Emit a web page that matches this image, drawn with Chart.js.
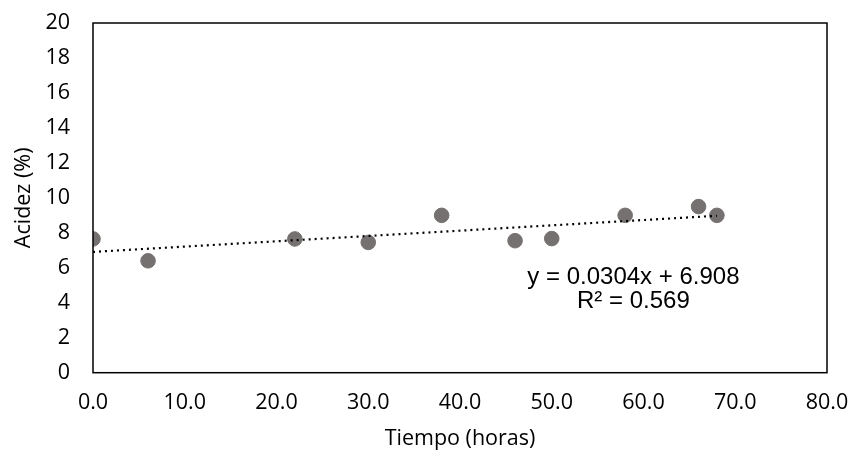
<!DOCTYPE html>
<html lang="es">
<head>
  <meta charset="UTF-8">
  <title>Acidez vs Tiempo</title>
  <script src="https://cdn.jsdelivr.net/npm/chart.js"></script>
  <style>
    html, body { margin: 0; padding: 0; background: #fff; }
    #wrap { width: 852px; height: 456px; }
  </style>
</head>
<body>
  <div id="wrap"><canvas id="acidezChart" width="852" height="456"></canvas></div>

  <script>
    // datos
    const tiempo = [0, 6, 22, 30, 38, 46, 50, 58, 66, 68];
    const acidez = [7.65, 6.4, 7.65, 7.45, 9.0, 7.55, 7.67, 9.0, 9.5, 9.0];

    // linea de tendencia (extremos)
    const trendX = [0, 68];
    const trendY = [6.908, 8.975];

    const eqLines = ['y = 0.0304x + 6.908', 'R² = 0.569'];

    const tickFont = { family: 'Open Sans', size: 21.5 };

    // marco del area de trazado + ecuacion
    const framePlugin = {
      id: 'frame',
      afterDatasetsDraw(chart) {
        const { ctx, chartArea: a, scales } = chart;
        ctx.save();
        ctx.strokeStyle = '#000';
        ctx.lineWidth = 1.5;
        ctx.strokeRect(a.left, a.top, a.right - a.left, a.bottom - a.top);

        ctx.fillStyle = '#000';
        ctx.font = '24px "Liberation Sans", Arial, sans-serif';
        ctx.textAlign = 'center';
        ctx.textBaseline = 'middle';
        const cx = scales.x.getPixelForValue(58.9);
        ctx.fillText(eqLines[0], cx, scales.y.getPixelForValue(5.45));
        ctx.fillText(eqLines[1], cx, scales.y.getPixelForValue(4.1));
        ctx.restore();
      }
    };

    function noOverflow(scale) {
      scale.paddingTop = 0;
      scale.paddingBottom = 0;
      scale.paddingLeft = 0;
      scale.paddingRight = 0;
    }

    const ctx = document.getElementById('acidezChart').getContext('2d');
    new Chart(ctx, {
      type: 'scatter',
      data: {
        datasets: [
          {
            label: 'Acidez',
            data: tiempo.map((t, i) => ({ x: t, y: acidez[i] })),
            backgroundColor: '#767171',
            borderColor: '#767171',
            pointRadius: 7.3,
            pointHoverRadius: 7.3,
            order: 2
          },
          {
            label: 'Tendencia',
            type: 'line',
            data: trendX.map((t, i) => ({ x: t, y: trendY[i] })),
            borderColor: '#000',
            borderWidth: 2.2,
            borderDash: [2, 4],
            pointRadius: 0,
            fill: false,
            order: 1
          }
        ]
      },
      options: {
        responsive: false,
        animation: false,
        layout: { padding: { top: 23, right: 25, left: 0, bottom: 0 } },
        plugins: {
          legend: { display: false },
          tooltip: { enabled: false }
        },
        scales: {
          x: {
            type: 'linear',
            min: 0,
            max: 80,
            afterFit(scale) { scale.height = 83.3; noOverflow(scale); },
            ticks: {
              stepSize: 10,
              color: '#000',
              font: tickFont,
              padding: 17,
              callback: v => v.toFixed(1)
            },
            grid: { display: false, drawTicks: false },
            border: { display: false },
            title: {
              display: true,
              text: 'Tiempo (horas)',
              color: '#000',
              font: tickFont,
              padding: { top: 0, bottom: 4 }
            }
          },
          y: {
            min: 0,
            max: 20,
            afterFit(scale) { scale.width = 93; noOverflow(scale); },
            ticks: {
              stepSize: 2,
              color: '#000',
              font: tickFont,
              padding: 23
            },
            grid: { display: false, drawTicks: false },
            border: { display: false },
            title: {
              display: true,
              text: 'Acidez (%)',
              color: '#000',
              font: tickFont,
              padding: { top: 11, bottom: 0 }
            }
          }
        }
      },
      plugins: [framePlugin]
    });
  </script>
</body>
</html>
